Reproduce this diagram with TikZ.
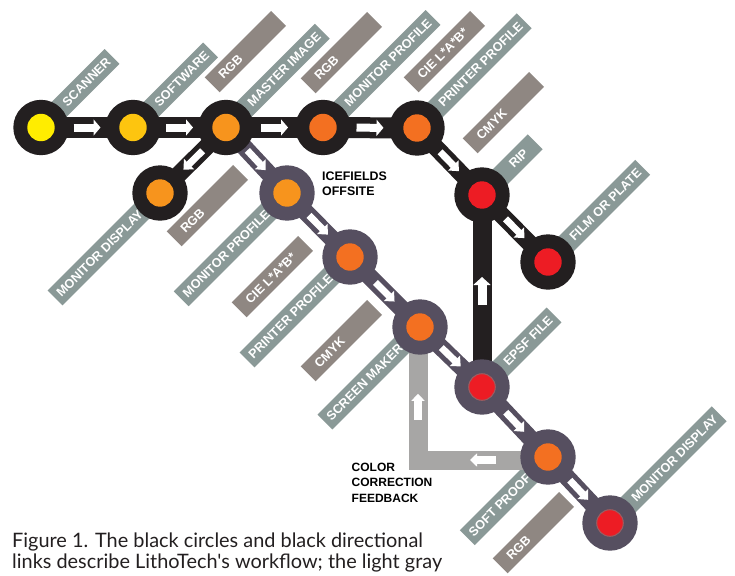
\documentclass[tikz,border=0pt]{standalone}
\usepackage{fontspec}
\usetikzlibrary{calc,arrows.meta}
\newfontfamily\tagfamily{Liberation Sans}
\newfontfamily\capfamily{Lato}

\definecolor{ringblack}{HTML}{231F20}
\definecolor{ringgray}{HTML}{564F60}
\definecolor{tagname}{HTML}{8A9997}
\definecolor{tagdata}{HTML}{8F8782}
\definecolor{feedgray}{HTML}{A7A6A5}
\definecolor{dotyellow}{HTML}{FFED00}
\definecolor{dotgold}{HTML}{FDC50F}
\definecolor{dotorange}{HTML}{F7941D}
\definecolor{dotdeep}{HTML}{F37021}
\definecolor{dotred}{HTML}{ED1C24}
\definecolor{dotrim}{HTML}{9A5E62}

\pgfdeclarelayer{paper}
\pgfdeclarelayer{tags}
\pgfdeclarelayer{links}
\pgfsetlayers{paper,tags,links,main}

\tikzset{
  station/.style 2 args={circle, fill=#1, minimum size=55.4pt, inner sep=0pt,
    path picture={\fill[#2] (path picture bounding box.center) circle[radius=13.7pt];}},
  rimstation/.style 2 args={circle, fill=#1, minimum size=55.4pt, inner sep=0pt,
    path picture={\filldraw[fill=#2, draw=dotrim, line width=1pt] (path picture bounding box.center) circle[radius=13.3pt];}},
  tagtext/.style={text=white, font=\tagfamily\bfseries\fontsize{12.6}{14}\selectfont},
  nametag/.style={tagtext, fill=tagname, rotate=45, minimum height=21pt, inner ysep=0pt, inner xsep=5pt},
  datatag/.style={tagtext, fill=tagdata, rotate=45, minimum height=21pt, inner ysep=0pt, inner xsep=12pt, anchor=west},
  widebar/.style={draw=ringblack, line width=21pt},
  blackbar/.style={draw=ringblack, line width=17pt},
  graybar/.style={draw=ringgray, line width=17pt},
  risebar/.style={draw=ringblack, line width=19pt},
  feedbar/.style={draw=feedgray, line width=19pt, line join=miter},
  flowtip/.style={draw=white, line width=8pt, -{Triangle[width=16pt,length=7pt]}},
  slimtip/.style={draw=white, line width=7pt, -{Triangle[width=14pt,length=8pt]}},
  infotext/.style={text=black, font=\tagfamily\bfseries\fontsize{12.4}{15}\selectfont, align=left, inner sep=0pt},
}

% white arrow centred in the gap between two stations
\newcommand\flowarrow[3][flowtip]{%
  \draw[#1] ($(#2)!0.5!(#3)!13.5pt!(#2)$) -- ($(#2)!0.5!(#3)!13.5pt!(#3)$);}

\begin{document}
\begin{tikzpicture}[x=1pt,y=-1pt]
\useasboundingbox (0,0) rectangle (735,575);
\begin{pgfonlayer}{paper}
  \fill[white] (0,0) rectangle (735,575);
\end{pgfonlayer}

% stations of the black workflow
\node[station={ringblack}{dotyellow}] (scanner)  at (41,127.5) {};
\node[station={ringblack}{dotgold}]   (software) at (133,127.5) {};
\node[station={ringblack}{dotorange}] (master)   at (226,127.5) {};
\node[station={ringblack}{dotdeep}]   (monprofA) at (323,127.5) {};
\node[station={ringblack}{dotdeep}]   (prnprofA) at (417,128) {};
\node[station={ringblack}{dotred}]    (rip)      at (482,195) {};
\node[station={ringblack}{dotred}]    (film)     at (548,262) {};
\node[station={ringblack}{dotorange}] (mondispA) at (160,193) {};
% stations of the offsite workflow
\node[station={ringgray}{dotorange}]  (monprofB) at (287,193) {};
\node[station={ringgray}{dotdeep}]    (prnprofB) at (350,257) {};
\node[station={ringgray}{dotdeep}]    (screen)   at (420,327) {};
\node[rimstation={ringgray}{dotred}]  (epsf)     at (482,387) {};
\node[station={ringgray}{dotdeep}]    (soft)     at (548,457) {};
\node[rimstation={ringgray}{dotred}]  (mondispB) at (610,523) {};

\coordinate (fbturn) at (418,460);

% station name tags and data-format tags
\begin{pgfonlayer}{tags}
  \node[nametag, anchor=west] (t-scanner)  at ($(scanner)+(45:22pt)$)  {\hspace{6pt}SCANNER};
  \node[nametag, anchor=west] (t-software) at ($(software)+(45:22pt)$) {\hspace{6pt}SOFTWARE};
  \node[nametag, anchor=west] (t-master)   at ($(master)+(45:22pt)$)   {\hspace{6pt}MASTER IMAGE};
  \node[nametag, anchor=west] (t-monprofA) at ($(monprofA)+(45:22pt)$) {\hspace{6pt}MONITOR PROFILE};
  \node[nametag, anchor=west] (t-prnprofA) at ($(prnprofA)+(45:22pt)$) {\hspace{6pt}PRINTER PROFILE};
  \node[nametag, anchor=west, minimum width=53pt] (t-rip) at ($(rip)+(45:22pt)$) {\hspace{6pt}RIP};
  \node[nametag, anchor=west] (t-film)     at ($(film)+(45:22pt)$)     {\hspace{6pt}FILM OR PLATE};
  \node[nametag, anchor=west] (t-epsf)     at ($(epsf)+(45:22pt)$)     {\hspace{6pt}EPSF FILE};
  \node[nametag, anchor=west] (t-mondispB) at ($(mondispB)+(45:22pt)$) {\hspace{6pt}MONITOR DISPLAY};
  \node[nametag, anchor=east] (t-mondispA) at ($(mondispA)+(225:22pt)$) {MONITOR DISPLAY\hspace{6pt}};
  \node[nametag, anchor=east] (t-monprofB) at ($(monprofB)+(225:22pt)$) {MONITOR PROFILE\hspace{6pt}};
  \node[nametag, anchor=east] (t-prnprofB) at ($(prnprofB)+(225:22pt)$) {PRINTER PROFILE\hspace{6pt}};
  \node[nametag, anchor=east] (t-screen)   at ($(screen)+(225:22pt)$)   {SCREEN MAKER\hspace{6pt}};
  \node[nametag, anchor=east] (t-soft)     at ($(soft)+(225:22pt)$)     {SOFT PROOF\hspace{6pt}};

  \node[datatag] (d-rgb1)  at (212,85)  {\makebox[70pt][l]{RGB}};
  \node[datatag] (d-rgb2)  at (308,86)  {\makebox[70pt][l]{RGB}};
  \node[datatag] (d-cie1)  at (411,85)  {\makebox[70pt][l]{CIE L*A*B*}};
  \node[datatag] (d-cmyk1) at (470,146) {\makebox[70pt][l]{CMYK}};
  \node[datatag] (d-rgb3)  at (174,239) {\makebox[70pt][l]{RGB}};
  \node[datatag] (d-cie2)  at (239,310) {\makebox[70pt][l]{CIE L*A*B*}};
  \node[datatag] (d-cmyk2) at (308,374) {\makebox[70pt][l]{CMYK}};
  \node[datatag] (d-rgb4)  at (500,566) {\makebox[70pt][l]{RGB}};
\end{pgfonlayer}

% links between stations, with their direction arrows
\begin{pgfonlayer}{links}
  \draw[widebar] (scanner.center) -- (software.center);
  \draw[widebar] (software.center) -- (master.center);
  \draw[widebar] (master.center) -- (monprofA.center);
  \draw[widebar] (monprofA.center) -- (prnprofA.center);
  \draw[blackbar] (master.center) -- (mondispA.center);
  \draw[blackbar] (prnprofA.center) -- (rip.center);
  \draw[blackbar] (rip.center) -- (film.center);
  \draw[graybar] (master.center) -- (monprofB.center);
  \draw[graybar] (monprofB.center) -- (prnprofB.center);
  \draw[graybar] (prnprofB.center) -- (screen.center);
  \draw[graybar] (screen.center) -- (epsf.center);
  \draw[graybar] (epsf.center) -- (soft.center);
  \draw[graybar] (soft.center) -- (mondispB.center);
  \draw[risebar] (epsf.center) -- (rip.center);
  \draw[feedbar] (soft |- fbturn) -- (fbturn) -- (fbturn |- screen);

  \flowarrow{scanner}{software}
  \flowarrow{software}{master}
  \flowarrow{master}{monprofA}
  \flowarrow{monprofA}{prnprofA}
  \flowarrow[slimtip]{master}{mondispA}
  \flowarrow[slimtip]{prnprofA}{rip}
  \flowarrow[slimtip]{rip}{film}
  \flowarrow[slimtip]{master}{monprofB}
  \flowarrow[slimtip]{monprofB}{prnprofB}
  \flowarrow[slimtip]{prnprofB}{screen}
  \flowarrow[slimtip]{screen}{epsf}
  \flowarrow[slimtip]{epsf}{soft}
  \flowarrow[slimtip]{soft}{mondispB}
  \draw[draw=white, line width=9pt, -{Triangle[width=17pt,length=8pt]}]
    ($(epsf)!0.5!(rip)!14pt!(epsf)$) -- ($(epsf)!0.5!(rip)!14pt!(rip)$);
  \draw[draw=white, line width=8pt, -{Triangle[width=13pt,length=7pt]}]
    ($(soft |- fbturn)!0.5!(fbturn)!13pt!(soft |- fbturn)$) -- ($(soft |- fbturn)!0.5!(fbturn)!13pt!(fbturn)$);
  \draw[draw=white, line width=8pt, -{Triangle[width=13pt,length=7pt]}]
    ($(fbturn)!0.4!(fbturn |- screen)!13pt!(fbturn)$) -- ($(fbturn)!0.4!(fbturn |- screen)!13pt!(fbturn |- screen)$);
\end{pgfonlayer}

% notes (multi-line nodes sit on the baseline of their last line)
\node[infotext, anchor=base west] (offsite) at (322,195) {ICEFIELDS\\OFFSITE};
\node[infotext, anchor=base west, font=\tagfamily\bfseries\fontsize{12}{15.5}\selectfont] (feedback) at (351.5,502) {COLOR\\CORRECTION\\FEEDBACK};

% caption
\node[anchor=base west, align=left, inner sep=0pt, text=ringblack,
      font=\capfamily\fontsize{19.9}{21.5}\selectfont] (caption) at (12,568.5)
  {Figure 1. The black circles and black directional\\links describe LithoTech's workflow; the light gray};
\end{tikzpicture}
\end{document}
